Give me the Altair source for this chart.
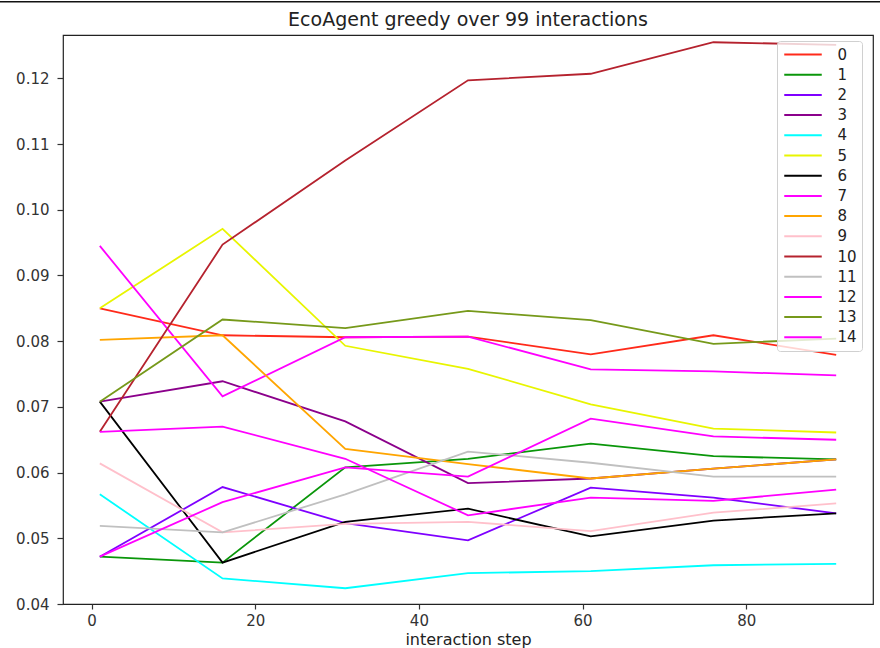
import altair as alt
import pandas as pd

steps = [1, 16, 31, 46, 61, 76, 91]
series_names = [str(i) for i in range(15)]

s0 = [0.0850, 0.0809, 0.0806, 0.0807, 0.0780, 0.0809, 0.0779]
s1 = [0.0472, 0.0463, 0.0608, 0.0621, 0.0644, 0.0625, 0.0620]
s2 = [0.0472, 0.0578, 0.0523, 0.0497, 0.0577, 0.0562, 0.0538]
s3 = [0.0708, 0.0739, 0.0678, 0.0584, 0.0591, 0.0606, 0.0620]
s4 = [0.0567, 0.0439, 0.0424, 0.0447, 0.0450, 0.0459, 0.0461]
s5 = [0.0850, 0.0971, 0.0793, 0.0758, 0.0704, 0.0667, 0.0661]
s6 = [0.0708, 0.0463, 0.0525, 0.0545, 0.0503, 0.0527, 0.0538]
s7 = [0.0945, 0.0716, 0.0806, 0.0807, 0.0757, 0.0754, 0.0748]
s8 = [0.0802, 0.0809, 0.0636, 0.0613, 0.0591, 0.0606, 0.0620]
s9 = [0.0614, 0.0509, 0.0522, 0.0525, 0.0511, 0.0539, 0.0553]
s10 = [0.0662, 0.0947, 0.1075, 0.1197, 0.1207, 0.1255, 0.1251]
s11 = [0.0519, 0.0509, 0.0567, 0.0632, 0.0615, 0.0594, 0.0594]
s12 = [0.0472, 0.0555, 0.0608, 0.0594, 0.0682, 0.0655, 0.0650]
s13 = [0.0708, 0.0833, 0.0820, 0.0846, 0.0832, 0.0796, 0.0804]
s14 = [0.0662, 0.0670, 0.0621, 0.0535, 0.0562, 0.0557, 0.0574]

all_series = [s0, s1, s2, s3, s4, s5, s6, s7, s8, s9, s10, s11, s12, s13, s14]

colors = ["#ff2a1a", "#0a960a", "#7f00ff", "#8b008b", "#00ffff", "#e8f500",
          "#000000", "#ff00ff", "#ffa500", "#ffc0cb", "#b5222e", "#c0c0c0",
          "#ff00ff", "#76991a", "#ff00ff"]

x_ticks = [0, 20, 40, 60, 80]
y_ticks = [0.04, 0.05, 0.06, 0.07, 0.08, 0.09, 0.10, 0.11, 0.12]

rows = []
for name, vals in zip(series_names, all_series):
    for x, v in zip(steps, vals):
        rows.append({"step": x, "value": v, "series": name})
df = pd.DataFrame(rows)

lines = alt.Chart(df).mark_line(strokeWidth=1.8).encode(
    x=alt.X("step:Q",
            scale=alt.Scale(domain=[-3.5, 95.5], nice=False, zero=False),
            axis=alt.Axis(values=x_ticks, format="d", title="interaction step",
                          grid=False, domain=False, tickSize=5, tickWidth=1.2,
                          tickColor="#333", labelFontSize=15, labelColor="#333",
                          labelPadding=4, titleFontSize=16, titleFontWeight="normal",
                          titleColor="#222", titlePadding=3, labelFont="DejaVu Sans",
                          titleFont="DejaVu Sans")),
    y=alt.Y("value:Q",
            scale=alt.Scale(domain=[0.04, 0.1266], nice=False, zero=False),
            axis=alt.Axis(values=y_ticks, format=".2f", title=None,
                          grid=False, domain=False, tickSize=6, tickWidth=1.2,
                          tickColor="#333", labelFontSize=15, labelColor="#333",
                          labelPadding=8, labelFont="DejaVu Sans")),
    color=alt.Color("series:N", sort=series_names,
                    scale=alt.Scale(domain=series_names, range=colors),
                    legend=alt.Legend(title=None, orient="none", legendX=714, legendY=6,
                                      symbolType="M-2.5,0H2.5", symbolSize=225,
                                      symbolStrokeWidth=2, symbolOffset=12.5,
                                      labelOffset=26, labelFontSize=15,
                                      labelFont="DejaVu Sans", labelColor="#222",
                                      rowPadding=3.2, padding=5,
                                      fillColor="rgba(255,255,255,0.8)",
                                      strokeColor="#d0d0d0", cornerRadius=3)),
)

top_rule = alt.Chart(pd.DataFrame({"a": [0]})).mark_rule(color="#111", strokeWidth=1.5).encode(
    x=alt.value(-63), x2=alt.value(817), y=alt.value(-33.3)
)

chart = alt.layer(lines, top_rule).properties(
    width=810, height=569,
    padding={"left": 63, "top": 35, "right": 7, "bottom": 44},
    autosize="none",
    background="white",
    title=alt.TitleParams("EcoAgent greedy over 99 interactions", fontSize=19,
                          font="DejaVu Sans", fontWeight="normal", color="#222",
                          offset=-29, anchor="middle", frame="group"),
).configure_view(stroke="#222", strokeWidth=1.2)

chart.save("out.html", embed_options={"renderer": "svg", "actions": False})
